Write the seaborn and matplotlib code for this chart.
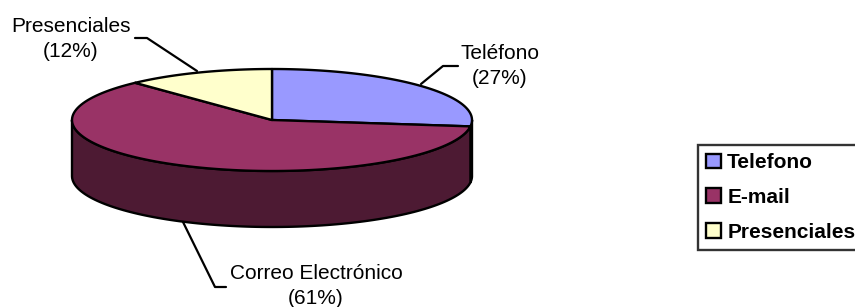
import numpy as np
import matplotlib
matplotlib.use("Agg")
import matplotlib.pyplot as plt
from matplotlib.patches import Polygon, Patch
import seaborn as sns

# data
pie_labels = ["Teléfono", "Correo Electrónico", "Presenciales"]
legend_labels = ["Telefono", "E-mail", "Presenciales"]
shares = [27, 61, 12]
top_colors = ["#9999FF", "#993366", "#FFFFCC"]
side_colors = ["#4D4D80", "#4D1A33", "#808066"]

# label placement (pixel coords) and leader lines
label_pos = [(500, 66), (316, 286), (71, 39)]
leaders = [
    [(421, 84), (443, 66), (458, 66)],
    [(183, 222), (215, 287), (226, 287)],
    [(197, 71), (147, 38), (135, 38)],
]


def setup_plotting():
    sns.set_theme(style="white")
    plt.rcParams["font.family"] = ["Liberation Sans", "DejaVu Sans"]
    plt.rcParams["text.color"] = "black"


def ellipse_pts(cx, cy, rx, ry, a_from, a_to, dy=0, n=120):
    t = np.radians(np.linspace(a_from, a_to, n))
    return np.column_stack([cx + rx * np.cos(t), cy - ry * np.sin(t) + dy])


def plot_pie3d(save_path):
    fig = plt.figure(figsize=(8.55, 3.07), dpi=100)
    ax = fig.add_axes([0, 0, 1, 1])
    ax.set_xlim(0, 855)
    ax.set_ylim(307, 0)
    ax.axis("off")

    cx, cy, rx, ry, depth = 272, 120, 200, 51, 56
    bounds = 90 - 360 * np.concatenate([[0], np.cumsum(shares)]) / sum(shares)

    # side walls (front half only)
    for i in range(len(shares)):
        a1, a2 = bounds[i], bounds[i + 1]
        for k in (-1, 0, 1):
            lo, hi = -180 + 360 * k, 360 * k
            s, e = max(a2, lo), min(a1, hi)
            if e <= s:
                continue
            top = ellipse_pts(cx, cy, rx, ry, s, e)
            bot = ellipse_pts(cx, cy, rx, ry, e, s, dy=depth)
            ax.add_patch(Polygon(np.vstack([top, bot]), closed=True,
                                 facecolor=side_colors[i], edgecolor="black",
                                 lw=1.7, joinstyle="round", zorder=2))

    # top faces
    for i in range(len(shares)):
        a1, a2 = bounds[i], bounds[i + 1]
        arc = ellipse_pts(cx, cy, rx, ry, a1, a2)
        ax.add_patch(Polygon(np.vstack([[cx, cy], arc]), closed=True,
                             facecolor=top_colors[i], edgecolor="black",
                             lw=1.7, joinstyle="round", zorder=3))

    for i, (lbl, pct) in enumerate(zip(pie_labels, shares)):
        x, y = label_pos[i]
        ax.text(x, y, f"{lbl}\n({pct}%)", ha="center", va="center",
                fontsize=15, linespacing=1.42, color="black")
        pts = np.array(leaders[i])
        ax.plot(pts[:, 0], pts[:, 1], color="black", lw=1.6, zorder=4)

    handles = [Patch(facecolor=c, edgecolor="black", lw=1.7) for c in top_colors]
    leg = fig.legend(handles, legend_labels, loc="upper left",
                     bbox_to_anchor=(698 / 855, 1 - 145 / 307),
                     frameon=True, fancybox=False, edgecolor="black",
                     prop={"weight": "bold", "size": 15},
                     handlelength=0.7, handleheight=0.7, handletextpad=0.3,
                     labelspacing=0.75, borderpad=0.4, borderaxespad=0)
    leg.get_frame().set_linewidth(1.7)

    fig.savefig(save_path, dpi=100)
    plt.close(fig)


def main():
    setup_plotting()
    plot_pie3d("out.png")


if __name__ == "__main__":
    main()
